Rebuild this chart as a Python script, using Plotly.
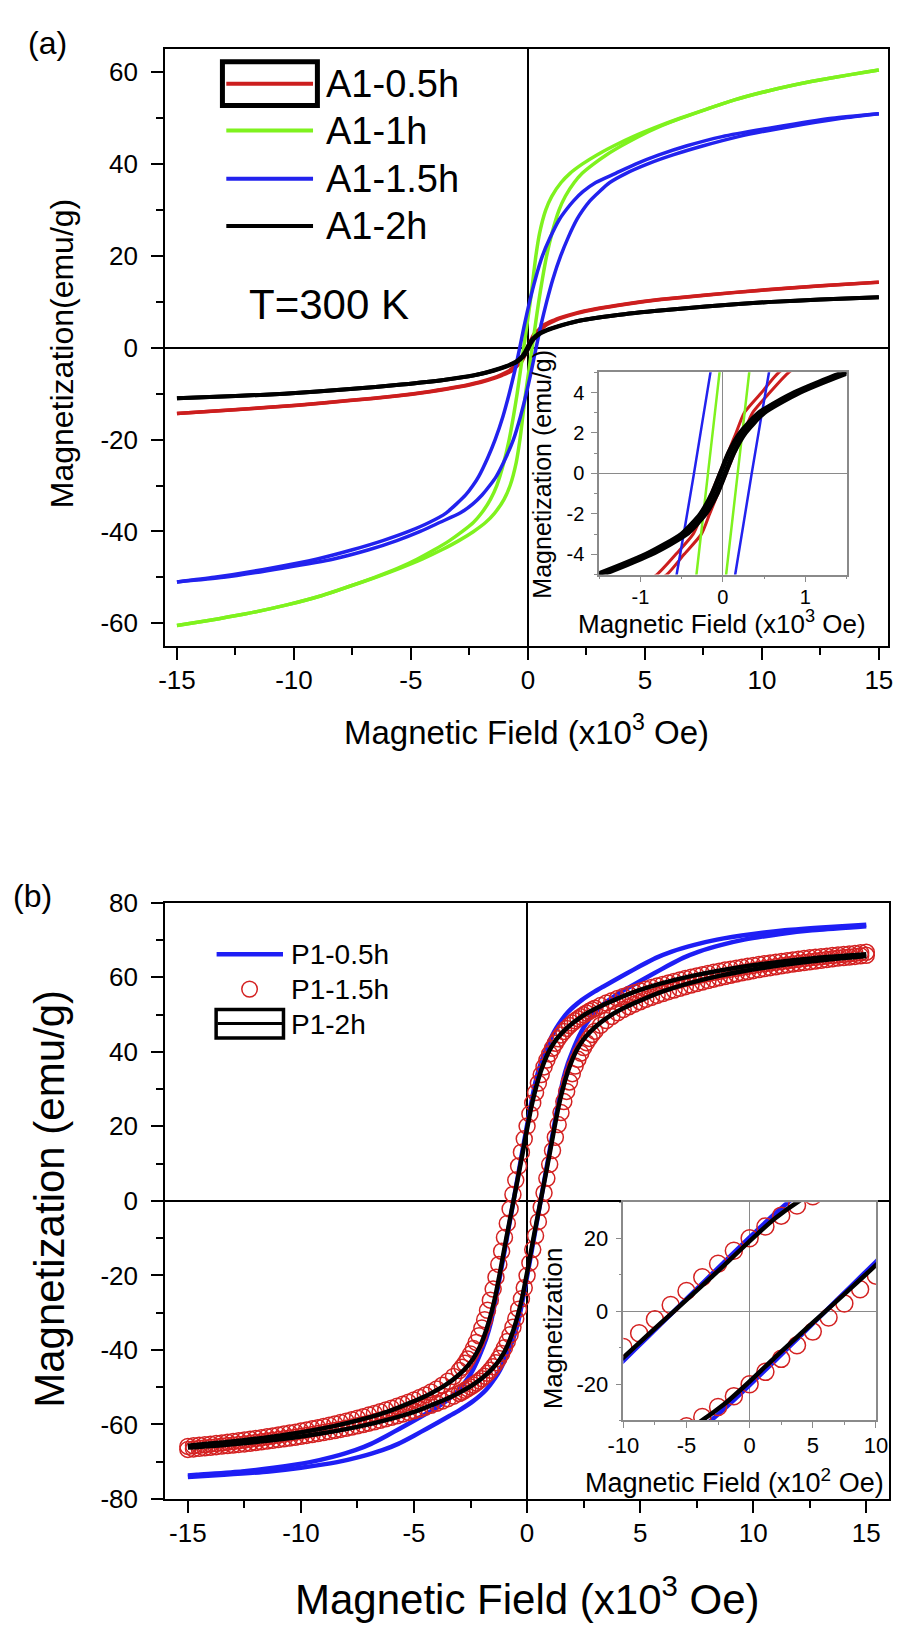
import plotly.graph_objects as go

FONT = "Liberation Sans, Arial, Helvetica, sans-serif"
PAGE_W, PAGE_H = 907, 1637

# ---------------------------------------------------------------------------
# (a) A1 samples, T = 300 K.
# Magnetization levels (emu/g) and the field (x10^3 Oe) at which the
# increasing-field sweep ("up") and the decreasing-field sweep ("down")
# pass through each level.
# ---------------------------------------------------------------------------
A1_05H_M = [-14.3, -13.5, -12.5, -11.5, -10.5, -9.5, -8.5, -7.5, -6.5, -6, -5, -4, -3, -2, -1,
            0, 1, 2, 3, 4, 5, 6, 6.5, 7.5, 8.5, 9.5, 10.5, 11.5, 12.5, 13.5, 14.3]
A1_05H_UP = [-15, -12.5, -9.8, -7.6, -5.6, -4.1, -2.9, -2.0, -1.35, -1.1, -0.68, -0.47, -0.26, -0.16, -0.06,
             0.04, 0.14, 0.25, 0.36, 0.57, 0.80, 1.2, 1.45, 2.1, 3.0, 4.2, 5.7, 7.7, 9.9, 12.6, 15]
A1_05H_DOWN = [-15, -12.6, -9.9, -7.7, -5.7, -4.2, -3.0, -2.1, -1.45, -1.2, -0.80, -0.57, -0.36, -0.25, -0.14,
               -0.04, 0.06, 0.16, 0.26, 0.47, 0.68, 1.1, 1.35, 2.0, 2.9, 4.1, 5.6, 7.6, 9.8, 12.5, 15]

A1_1H_M = [-60.5, -60, -59, -58, -56, -54, -52, -50, -48, -46, -44, -42, -40, -38, -36, -33, -30, -25,
           -20, -15, -10, -5, 0, 5, 10, 15, 20, 25, 30, 33, 36, 38, 40, 42, 44, 46, 48, 50, 52, 54,
           56, 58, 59, 60, 60.5]
A1_1H_UP = [-15, -14.4, -13.2, -12.1, -10.3, -8.83, -7.65, -6.5, -5.45, -4.50, -3.68, -2.95, -2.32,
            -1.80, -1.42, -1.02, -0.76, -0.50, -0.34, -0.22, -0.10, 0.04, 0.18, 0.32, 0.46, 0.62, 0.80,
            1.03, 1.33, 1.60, 1.98, 2.32, 2.80, 3.35, 4.00, 4.72, 5.55, 6.55, 7.65, 8.83, 10.3, 12.1,
            13.2, 14.4, 15]
A1_1H_DOWN = [-15, -14.4, -13.2, -12.1, -10.3, -8.83, -7.65, -6.55, -5.55, -4.72, -4.00, -3.35, -2.80,
              -2.32, -1.98, -1.60, -1.33, -1.03, -0.80, -0.62, -0.46, -0.32, -0.18, -0.04, 0.10, 0.22,
              0.34, 0.50, 0.76, 1.02, 1.42, 1.80, 2.32, 2.95, 3.68, 4.50, 5.45, 6.5, 7.65, 8.83, 10.3,
              12.1, 13.2, 14.4, 15]

A1_15H_M = [-51, -50, -48, -46, -44, -42, -40, -38, -36, -34, -32, -30, -28, -24, -20, -15, -10, -5, 0,
            5, 10, 15, 20, 24, 28, 30, 32, 34, 36, 38, 40, 42, 44, 46, 48, 50, 51]
A1_15H_UP = [-15, -13.0, -10.5, -8.3, -6.8, -5.6, -4.6, -3.75, -2.9, -2.35, -1.95, -1.63, -1.35, -0.95,
             -0.62, -0.32, -0.07, 0.15, 0.35, 0.56, 0.8, 1.07, 1.4, 1.72, 2.1, 2.35, 2.65, 3.05, 3.5,
             4.2, 5.1, 6.2, 7.5, 9.0, 11.0, 13.4, 15]
A1_15H_DOWN = [-15, -13.4, -11.0, -9.0, -7.5, -6.2, -5.1, -4.2, -3.5, -3.05, -2.65, -2.35, -2.1, -1.72,
               -1.4, -1.07, -0.8, -0.56, -0.35, -0.15, 0.07, 0.32, 0.62, 0.95, 1.35, 1.63, 1.95, 2.35,
               2.9, 3.75, 4.6, 5.6, 6.8, 8.3, 10.5, 13.0, 15]

A1_2H_M = [-11, -10.5, -10, -9, -8, -7, -6, -5, -4, -3, -2, -1, 0, 1, 2, 3, 4, 5, 6, 7, 8, 9, 10, 10.5, 11]
A1_2H_UP = [-15, -12.5, -10.4, -7.6, -5.4, -3.6, -2.3, -1.47, -0.87, -0.44, -0.21, -0.07, 0.03, 0.13,
            0.27, 0.5, 0.93, 1.53, 2.3, 3.6, 5.4, 7.6, 10.4, 12.5, 15]
A1_2H_DOWN = [-15, -12.5, -10.4, -7.6, -5.4, -3.6, -2.3, -1.53, -0.93, -0.5, -0.27, -0.13, -0.03, 0.07,
              0.21, 0.44, 0.87, 1.47, 2.3, 3.6, 5.4, 7.6, 10.4, 12.5, 15]

# ---------------------------------------------------------------------------
# (b) P1 samples: field (x10^3 Oe) and magnetization (emu/g) of each sweep.
# ---------------------------------------------------------------------------
P1_05H_UP_H = [-15, -13.4, -11.4, -10.0, -8.4, -7.4, -6.4, -5.7, -5.0, -4.4, -3.4, -3.0, -2.4, -1.8,
               -1.4, -1.2, -1.0, -0.8, -0.6, -0.4, -0.2, 0.0, 0.2, 0.4, 0.6, 0.8, 1.0, 1.2, 1.4, 1.6,
               1.8, 2.0, 2.2, 2.4, 2.6, 3.0, 3.6, 4.2, 4.6, 5.6, 6.2, 6.9, 7.6, 8.6, 9.6, 11.2, 12.6,
               14.6, 15.0]
P1_05H_UP_M = [-74.1, -73.5, -72.6, -71.6, -70.1, -68.7, -66.9, -65.2, -63.0, -61.0, -57.6, -56.2, -53.8,
               -50.6, -47.4, -45.4, -42.9, -40.0, -36.8, -32.6, -26.8, -20.3, -13.6, -6.8, 0.0, 6.8,
               13.6, 20.3, 26.8, 32.6, 36.8, 40.0, 42.9, 45.4, 47.4, 50.6, 53.8, 56.2, 57.6, 61.0, 63.0,
               65.2, 66.9, 68.7, 70.1, 71.6, 72.6, 73.5, 73.7]
P1_05H_DOWN_H = [-15.0, -14.6, -12.6, -11.2, -9.6, -8.6, -7.6, -6.9, -6.2, -5.6, -4.6, -4.2, -3.6, -3.0,
                 -2.6, -2.4, -2.2, -2.0, -1.8, -1.6, -1.4, -1.2, -1.0, -0.8, -0.6, -0.4, -0.2, 0.0, 0.2,
                 0.4, 0.6, 0.8, 1.0, 1.2, 1.4, 1.8, 2.4, 3.0, 3.4, 4.4, 5.0, 5.7, 6.4, 7.4, 8.4, 10.0,
                 11.4, 13.4, 15.0]
P1_05H_DOWN_M = [-73.7, -73.5, -72.6, -71.6, -70.1, -68.7, -66.9, -65.2, -63.0, -61.0, -57.6, -56.2,
                 -53.8, -50.6, -47.4, -45.4, -42.9, -40.0, -36.8, -32.6, -26.8, -20.3, -13.6, -6.8, 0.0,
                 6.8, 13.6, 20.3, 26.8, 32.6, 36.8, 40.0, 42.9, 45.4, 47.4, 50.6, 53.8, 56.2, 57.6, 61.0,
                 63.0, 65.2, 66.9, 68.7, 70.1, 71.6, 72.6, 73.5, 74.1]

P1_15H_H = [-15, -14.75, -14.5, -14.25, -14, -13.75, -13.5, -13.25, -13, -12.75, -12.5, -12.25, -12,
            -11.75, -11.5, -11.25, -11, -10.75, -10.5, -10.25, -10, -9.75, -9.5, -9.25, -9, -8.75, -8.5,
            -8.25, -8, -7.75, -7.5, -7.25, -7, -6.75, -6.5, -6.25, -6, -5.75, -5.5, -5.25, -5, -4.75,
            -4.5, -4.25, -4, -3.75, -3.5, -3.25, -3,
            -2.875, -2.75, -2.625, -2.5, -2.375, -2.25, -2.125, -2, -1.875, -1.75, -1.625, -1.5, -1.375,
            -1.25, -1.125, -1, -0.875, -0.75, -0.625, -0.5, -0.375, -0.25, -0.125, 0, 0.125, 0.25,
            0.375, 0.5, 0.625, 0.75, 0.875, 1, 1.125, 1.25, 1.375, 1.5, 1.625, 1.75, 1.875, 2, 2.125,
            2.25, 2.375, 2.5, 2.625, 2.75, 2.875,
            3, 3.25, 3.5, 3.75, 4, 4.25, 4.5, 4.75, 5, 5.25, 5.5, 5.75, 6, 6.25, 6.5, 6.75, 7, 7.25,
            7.5, 7.75, 8, 8.25, 8.5, 8.75, 9, 9.25, 9.5, 9.75, 10, 10.25, 10.5, 10.75, 11, 11.25,
            11.5, 11.75, 12, 12.25, 12.5, 12.75, 13, 13.25, 13.5, 13.75, 14, 14.25, 14.5, 14.75, 15]
P1_15H_UP_M = [-66.7, -66.56, -66.41, -66.26, -66.11, -65.96, -65.81, -65.66, -65.51, -65.36, -65.21,
               -65.04, -64.84, -64.64, -64.44, -64.24, -64.04, -63.84, -63.64, -63.43, -63.18, -62.93,
               -62.68, -62.43, -62.18, -61.92, -61.62, -61.32, -61.02, -60.70, -60.35, -60.00, -59.65,
               -59.29, -58.89, -58.49, -58.09, -57.67, -57.22, -56.77, -56.32, -55.86, -55.36, -54.85,
               -54.30, -53.72, -53.07, -52.40, -51.68,
               -51.28, -50.85, -50.40, -49.92, -49.42, -48.89, -48.32, -47.70, -47.03, -46.28, -45.44,
               -44.53, -43.47, -42.30, -40.96, -39.44, -37.77, -35.95, -33.89, -31.60, -29.06, -26.29,
               -23.32, -20.06, -16.64, -13.07, -9.35, -5.58, -1.71, 2.17, 6.05, 9.80, 13.51, 17.06,
               20.47, 23.68, 26.64, 29.37, 31.90, 34.14, 36.18, 37.98, 39.64, 41.12, 42.45, 43.60, 44.66,
               45.54, 47.12, 48.39, 49.48, 50.45, 51.32, 52.10, 52.78, 53.43, 54.05, 54.60, 55.14,
               55.64, 56.13, 56.58, 57.03, 57.48, 57.91, 58.31, 58.71, 59.11, 59.50, 59.85, 60.20,
               60.55, 60.88, 61.18, 61.48, 61.78, 62.07, 62.32, 62.57, 62.82, 63.07, 63.32, 63.56,
               63.76, 63.96, 64.16, 64.36, 64.56, 64.76, 64.96, 65.14, 65.29, 65.44, 65.59, 65.74, 65.89]
P1_15H_DOWN_M = [-65.89, -65.74, -65.59, -65.44, -65.29, -65.14, -64.96, -64.76, -64.56, -64.36, -64.16,
                 -63.96, -63.76, -63.56, -63.32, -63.07, -62.82, -62.57, -62.32, -62.07, -61.78, -61.48,
                 -61.18, -60.88, -60.55, -60.20, -59.85, -59.50, -59.11, -58.71, -58.31, -57.91, -57.48,
                 -57.03, -56.58, -56.13, -55.64, -55.14, -54.60, -54.05, -53.43, -52.78, -52.10, -51.32,
                 -50.45, -49.48, -48.39, -47.12, -45.54,
                 -44.66, -43.60, -42.45, -41.12, -39.64, -37.98, -36.18, -34.14, -31.90, -29.37, -26.64,
                 -23.68, -20.47, -17.06, -13.51, -9.80, -6.05, -2.17, 1.71, 5.58, 9.35, 13.07, 16.64,
                 20.06, 23.32, 26.29, 29.06, 31.60, 33.89, 35.95, 37.77, 39.44, 40.96, 42.30, 43.47,
                 44.53, 45.44, 46.28, 47.03, 47.70, 48.32, 48.89, 49.42, 49.92, 50.40, 50.85, 51.28,
                 51.68, 52.40, 53.07, 53.72, 54.30, 54.85, 55.36, 55.86, 56.32, 56.77, 57.22, 57.67,
                 58.09, 58.49, 58.89, 59.29, 59.65, 60.00, 60.35, 60.70, 61.02, 61.32, 61.62, 61.92,
                 62.18, 62.43, 62.68, 62.93, 63.18, 63.43, 63.64, 63.84, 64.04, 64.24, 64.44, 64.64,
                 64.84, 65.04, 65.21, 65.36, 65.51, 65.66, 65.81, 65.96, 66.11, 66.26, 66.41, 66.56, 66.7]

P1_2H_UP_H = [-15.0, -13.4, -11.4, -9.4, -7.4, -5.9, -4.9, -3.9, -3.1, -2.4, -1.8, -1.4, -1.2, -1.0, -0.8,
              -0.6, -0.4, -0.2, 0.0, 0.2, 0.4, 0.6, 0.8, 1.0, 1.2, 1.4, 1.6, 1.8, 2.0, 2.2, 2.4, 2.6,
              3.0, 3.6, 4.3, 5.1, 6.1, 7.1, 8.6, 10.6, 12.6, 15.0]
P1_2H_UP_M = [-66.2, -65.5, -64.3, -62.7, -60.5, -58.3, -56.4, -54.0, -51.8, -49.4, -46.6, -44.1, -42.5,
              -40.5, -37.9, -34.6, -30.5, -25.5, -19.3, -12.7, -6.3, 0.0, 6.3, 12.7, 19.3, 25.5, 30.5,
              34.6, 37.9, 40.5, 42.5, 44.1, 46.6, 49.4, 51.8, 54.0, 56.4, 58.3, 60.5, 62.7, 64.3, 65.7]
P1_2H_DOWN_H = [-15.0, -12.6, -10.6, -8.6, -7.1, -6.1, -5.1, -4.3, -3.6, -3.0, -2.6, -2.4, -2.2, -2.0,
                -1.8, -1.6, -1.4, -1.2, -1.0, -0.8, -0.6, -0.4, -0.2, 0.0, 0.2, 0.4, 0.6, 0.8, 1.0, 1.2,
                1.4, 1.8, 2.4, 3.1, 3.9, 4.9, 5.9, 7.4, 9.4, 11.4, 13.4, 15.0]
P1_2H_DOWN_M = [-65.7, -64.3, -62.7, -60.5, -58.3, -56.4, -54.0, -51.8, -49.4, -46.6, -44.1, -42.5,
                -40.5, -37.9, -34.6, -30.5, -25.5, -19.3, -12.7, -6.3, 0.0, 6.3, 12.7, 19.3, 25.5, 30.5,
                34.6, 37.9, 40.5, 42.5, 44.1, 46.6, 49.4, 51.8, 54.0, 56.4, 58.3, 60.5, 62.7, 64.3, 65.5,
                66.2]

# Tick positions
A_X_TICKS = [-15, -10, -5, 0, 5, 10, 15]
A_X_MINOR = [-12.5, -7.5, -2.5, 2.5, 7.5, 12.5]
A_Y_TICKS = [-60, -40, -20, 0, 20, 40, 60]
A_Y_MINOR = [-50, -30, -10, 10, 30, 50]
A_IN_X_TICKS = [-1, 0, 1]
A_IN_X_MINOR = [-1.5, -0.5, 0.5, 1.5]
A_IN_Y_TICKS = [-4, -2, 0, 2, 4]
A_IN_Y_MINOR = [-5, -3, -1, 1, 3, 5]
B_X_TICKS = [-15, -10, -5, 0, 5, 10, 15]
B_X_MINOR = [-12.5, -7.5, -2.5, 2.5, 7.5, 12.5]
B_Y_TICKS = [-80, -60, -40, -20, 0, 20, 40, 60, 80]
B_Y_MINOR = [-70, -50, -30, -10, 10, 30, 50, 70]
B_IN_X_TICKS = [-1, -0.5, 0, 0.5, 1]          # kOe, labelled in units of 10^2 Oe
B_IN_X_LABELS = ["-10", "-5", "0", "5", "10"]
B_IN_X_MINOR = [-0.75, -0.25, 0.25, 0.75]
B_IN_Y_TICKS = [-20, 0, 20]
B_IN_Y_MINOR = [-30, -10, 10, 30]

RED_A = "#CC1E1E"
GREEN_A = "#7FF21E"
BLUE_A = "#2222EE"
BLUE_B = "#1E1EF5"
RED_B = "#D42222"


def fx(px):
    return px / PAGE_W


def fy(py):
    return 1 - py / PAGE_H


def label(v):
    return str(int(v)) if float(v).is_integer() else str(v)


def line_trace(h, m, color, width, xa, ya):
    return go.Scatter(x=h, y=m, mode="lines", xaxis=xa, yaxis=ya,
                      line=dict(color=color, width=width, shape="spline", smoothing=0.6),
                      hoverinfo="skip", showlegend=False)


def circle_trace(h, m, color, xa, ya, size):
    return go.Scatter(x=h, y=m, mode="markers", xaxis=xa, yaxis=ya,
                      marker=dict(symbol="circle-open", size=size, color=color,
                                  line=dict(width=1.5, color=color)),
                      hoverinfo="skip", showlegend=False)


fig = go.Figure()

# (a) main panel and inset
a_series = [
    (A1_05H_M, A1_05H_UP, A1_05H_DOWN, RED_A, 3.5, 3.0),
    (A1_1H_M, A1_1H_UP, A1_1H_DOWN, GREEN_A, 3.5, 2.5),
    (A1_15H_M, A1_15H_UP, A1_15H_DOWN, BLUE_A, 3.5, 2.5),
    (A1_2H_M, A1_2H_UP, A1_2H_DOWN, "black", 4.0, 5.0),
]
for m, up, down, color, w_main, w_inset in a_series:
    fig.add_trace(line_trace(up, m, color, w_main, "x", "y"))
    fig.add_trace(line_trace(down, m, color, w_main, "x", "y"))
for m, up, down, color, w_main, w_inset in a_series:
    fig.add_trace(line_trace(up, m, color, w_inset, "x2", "y2"))
    fig.add_trace(line_trace(down, m, color, w_inset, "x2", "y2"))

# (b) main panel and inset
for xa, ya, wl, size in (("x3", "y3", 4.5, 16), ("x4", "y4", 4.5, 17)):
    fig.add_trace(line_trace(P1_05H_UP_H, P1_05H_UP_M, BLUE_B, wl, xa, ya))
    fig.add_trace(line_trace(P1_05H_DOWN_H, P1_05H_DOWN_M, BLUE_B, wl, xa, ya))
    fig.add_trace(circle_trace(P1_15H_H, P1_15H_UP_M, RED_B, xa, ya, size))
    fig.add_trace(circle_trace(P1_15H_H, P1_15H_DOWN_M, RED_B, xa, ya, size))
    fig.add_trace(line_trace(P1_2H_UP_H, P1_2H_UP_M, "black", wl, xa, ya))
    fig.add_trace(line_trace(P1_2H_DOWN_H, P1_2H_DOWN_M, "black", wl, xa, ya))


def main_axis(domain, rng, anchor, ticks, minor, standoff):
    return dict(domain=domain, range=rng, anchor=anchor, showline=True, linecolor="black",
                linewidth=2, mirror=True, ticks="outside", ticklen=12, tickwidth=2,
                tickcolor="black", tickmode="array", tickvals=ticks,
                ticktext=[label(v) for v in ticks], ticklabelstandoff=standoff,
                tickfont=dict(family=FONT, size=26, color="black"),
                minor=dict(tickmode="array", tickvals=minor, ticks="outside", ticklen=7,
                           tickwidth=2, tickcolor="black"),
                showgrid=False, zeroline=True, zerolinecolor="black", zerolinewidth=2,
                fixedrange=True)


def inset_axis(domain, rng, anchor, ticks, labels, minor, size, standoff):
    return dict(domain=domain, range=rng, anchor=anchor, showline=True, linecolor="#8a8a8a",
                linewidth=1.5, mirror=True, ticks="outside", ticklen=6, tickwidth=1.2,
                tickcolor="#8a8a8a", tickmode="array", tickvals=ticks, ticktext=labels,
                ticklabelstandoff=standoff,
                tickfont=dict(family=FONT, size=size, color="black"),
                minor=dict(tickmode="array", tickvals=minor, ticks="outside", ticklen=3,
                           tickwidth=1.2, tickcolor="#8a8a8a"),
                showgrid=False, zeroline=True, zerolinecolor="#8a8a8a", zerolinewidth=1.2,
                fixedrange=True)


layout = dict(
    width=PAGE_W, height=PAGE_H, margin=dict(l=0, r=0, t=0, b=0),
    paper_bgcolor="white", plot_bgcolor="white", showlegend=False,
    font=dict(family=FONT, color="black"),
    xaxis=main_axis([fx(154), fx(900)], [-15.5, 15.4], "y", A_X_TICKS, A_X_MINOR, -2),
    yaxis=main_axis([fy(643), fy(35)], [-65, 65], "x", A_Y_TICKS, A_Y_MINOR, 8),
    xaxis2=inset_axis([fx(601.7), fx(857)], [-1.5, 1.5], "y2", A_IN_X_TICKS,
                      [label(v) for v in A_IN_X_TICKS], A_IN_X_MINOR, 20, -2),
    yaxis2=inset_axis([fy(570), fy(364)], [-5, 5], "x2", A_IN_Y_TICKS,
                      [label(v) for v in A_IN_Y_TICKS], A_IN_Y_MINOR, 20, 3),
    xaxis3=main_axis([fx(154), fx(900.7)], [-16, 16], "y3", B_X_TICKS, B_X_MINOR, -2),
    yaxis3=main_axis([fy(1511.7), fy(904.3)], [-80, 80], "x3", B_Y_TICKS, B_Y_MINOR, 8),
    xaxis4=inset_axis([fx(626.7), fx(887.3)], [-1, 1], "y4", B_IN_X_TICKS, B_IN_X_LABELS,
                      B_IN_X_MINOR, 22, -2),
    yaxis4=inset_axis([fy(1431.7), fy(1209.3)], [-30, 30], "x4", B_IN_Y_TICKS,
                      [label(v) for v in B_IN_Y_TICKS], B_IN_Y_MINOR, 22, 3),
)
fig.update_layout(**layout)


def text(s, x, y, size, xanchor="left", angle=0):
    fig.add_annotation(text=s, x=fx(x), y=fy(y), xref="paper", yref="paper",
                       xanchor=xanchor, yanchor="middle", showarrow=False, textangle=angle,
                       font=dict(family=FONT, size=size, color="black"))


# Panel letters
text("(a)", 10, 29, 32)
text("(b)", 39, 897, 32, xanchor="right")

# Axis titles
text("Magnetization(emu/g)", 47, 345, 32, xanchor="center", angle=-90)
text("Magnetic Field (x10<sup>3</sup> Oe)", 527, 728, 33, xanchor="center")
text("Magnetization (emu/g)", 543, 468, 25, xanchor="center", angle=-90)
text("Magnetic Field (x10<sup>3</sup> Oe)", 728, 619, 26, xanchor="center")
text("Magnetization (emu/g)", 35, 1206, 42, xanchor="center", angle=-90)
text("Magnetic Field (x10<sup>3</sup> Oe)", 528, 1611, 42, xanchor="center")
text("Magnetization", 555, 1338, 26, xanchor="center", angle=-90)
text("Magnetic Field (x10<sup>2</sup> Oe)", 741, 1493, 27, xanchor="center")

# Temperature note
text("T=300 K", 238, 295, 42)

# Legend of (a)
shapes = []
a_rows = [("A1-0.5h", RED_A, 70), ("A1-1h", GREEN_A, 117.7), ("A1-1.5h", BLUE_A, 166.7),
          ("A1-2h", "black", 215)]
shapes.append(dict(type="rect", xref="paper", yref="paper", x0=fx(213), x1=fx(311),
                   y0=fy(92.3), y1=fy(47.7), line=dict(color="black", width=5)))
for name, color, yy in a_rows:
    shapes.append(dict(type="line", xref="paper", yref="paper", x0=fx(217), x1=fx(306.5),
                       y0=fy(yy), y1=fy(yy), line=dict(color=color, width=4)))
    text(name, 318, yy, 38)

# Legend of (b)
shapes.append(dict(type="line", xref="paper", yref="paper", x0=fx(207), x1=fx(275.5),
                   y0=fy(956.7), y1=fy(956.7), line=dict(color=BLUE_B, width=4.5)))
shapes.append(dict(type="circle", xref="paper", yref="paper", x0=fx(233), x1=fx(249),
                   y0=fy(1000.3), y1=fy(984.3), line=dict(color=RED_B, width=1.5)))
shapes.append(dict(type="rect", xref="paper", yref="paper", x0=fx(206.5), x1=fx(276),
                   y0=fy(1042), y1=fy(1013), line=dict(color="black", width=3.5)))
shapes.append(dict(type="line", xref="paper", yref="paper", x0=fx(208), x1=fx(275),
                   y0=fy(1027.3), y1=fy(1027.3), line=dict(color="black", width=3)))
for name, yy in (("P1-0.5h", 957), ("P1-1.5h", 993), ("P1-2h", 1028)):
    text(name, 282, yy, 28)

fig.update_layout(shapes=shapes)
fig.write_html("out.html")
